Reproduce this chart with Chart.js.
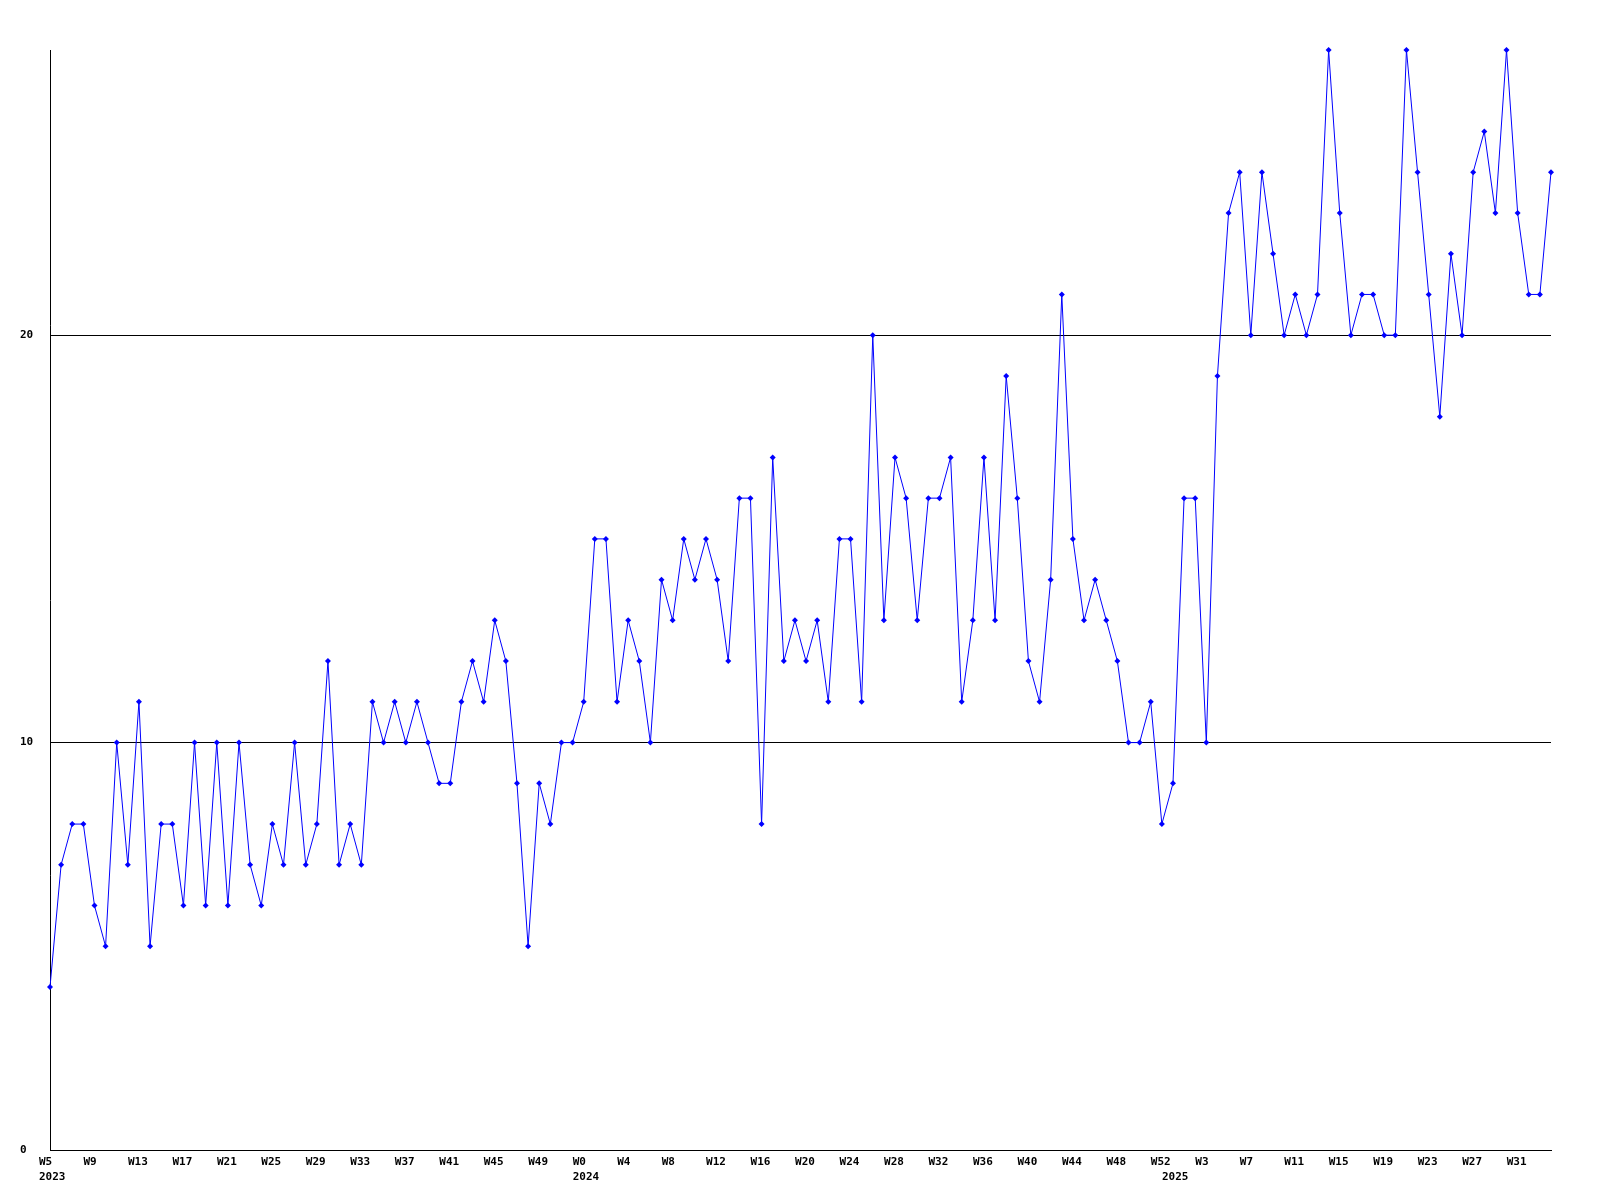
<!DOCTYPE html>
<html>
<head>
<meta charset="utf-8">
<title>Weekly count</title>
<script src="https://cdn.jsdelivr.net/npm/chart.js@4/dist/chart.umd.min.js"></script>
<style>
    body { margin: 0; background: #ffffff; }
    #wrap { width: 1600px; height: 1200px; position: relative; }
</style>
</head>
<body>
<div id="wrap"><canvas id="chart"></canvas></div>
<script>
// week ranges per year (first and last week shown)
const years = [2023, 2024, 2025];
const firstWeek = [5, 0, 0];
const lastWeek = [52, 52, 34];

// weekly values, one array per year
const counts2023 = [4, 7, 8, 8, 6, 5, 10, 7, 11, 5, 8, 8, 6, 10, 6, 10, 6, 10, 7, 6, 8, 7, 10, 7,
    8, 12, 7, 8, 7, 11, 10, 11, 10, 11, 10, 9, 9, 11, 12, 11, 13, 12, 9, 5, 9, 8, 10, 10];
const counts2024 = [11, 15, 15, 11, 13, 12, 10, 14, 13, 15, 14, 15, 14, 12, 16, 16, 8, 17, 12, 13, 12, 13, 11, 15, 15, 11, 20,
    13, 17, 16, 13, 16, 16, 17, 11, 13, 17, 13, 19, 16, 12, 11, 14, 21, 15, 13, 14, 13, 12, 10, 10, 11, 8];
const counts2025 = [9, 16, 16, 10, 19, 23, 24, 20, 24, 22, 20, 21, 20, 21, 27, 23, 20, 21,
    21, 20, 20, 27, 24, 21, 18, 22, 20, 24, 25, 23, 27, 23, 21, 21, 24];

// y axis
const yMin = 0;
const yMax = 27;
const yStep = 10;

// every 4th week gets a label
const labelEvery = 4;

const weekLabels = [];
const yearStart = {};
years.forEach((y, k) => {
    yearStart[weekLabels.length] = y;
    for (let w = firstWeek[k]; w <= lastWeek[k]; w++) {
        weekLabels.push('W' + w);
    }
});
const values = [...counts2023, ...counts2024, ...counts2025];

const axisFont = {
    family: "'DejaVu Sans Mono', monospace",
    size: 11,
    weight: 'bold',
    lineHeight: '15px'
};

new Chart(document.getElementById('chart'), {
    type: 'line',
    data: {
        labels: weekLabels,
        datasets: [{
            data: values,
            borderColor: '#0000ff',
            borderWidth: 1,
            tension: 0,
            pointStyle: 'rectRot',
            pointRadius: 3,
            pointBackgroundColor: '#0000ff',
            pointBorderColor: '#0000ff',
            pointBorderWidth: 0,
            clip: false
        }]
    },
    options: {
        responsive: true,
        maintainAspectRatio: false,
        animation: false,
        devicePixelRatio: 1,
        layout: {
            padding: { top: 50, right: 49, bottom: 0, left: 20 }
        },
        plugins: {
            legend: { display: false },
            tooltip: { enabled: false }
        },
        scales: {
            x: {
                offset: false,
                grid: { display: false, drawTicks: false },
                border: { display: true, color: '#000000', width: 1 },
                ticks: {
                    autoSkip: false,
                    maxRotation: 0,
                    minRotation: 0,
                    align: 'start',
                    labelOffset: -11,
                    padding: 5,
                    color: '#000000',
                    font: axisFont,
                    callback: function (value, index) {
                        const top = index % labelEvery === 0 ? this.getLabelForValue(value) : '';
                        if (yearStart[index] !== undefined) {
                            return [top, String(yearStart[index])];
                        }
                        return top;
                    }
                },
                afterFit: (scale) => { scale.height = 50; }
            },
            y: {
                min: yMin,
                max: yMax,
                grid: {
                    color: '#000000',
                    lineWidth: 1,
                    drawTicks: false
                },
                border: { display: true, color: '#000000', width: 1 },
                ticks: {
                    stepSize: yStep,
                    includeBounds: false,
                    crossAlign: 'far',
                    padding: 0,
                    color: '#000000',
                    font: axisFont
                },
                afterFit: (scale) => { scale.width = 30; }
            }
        }
    }
});
</script>
</body>
</html>
